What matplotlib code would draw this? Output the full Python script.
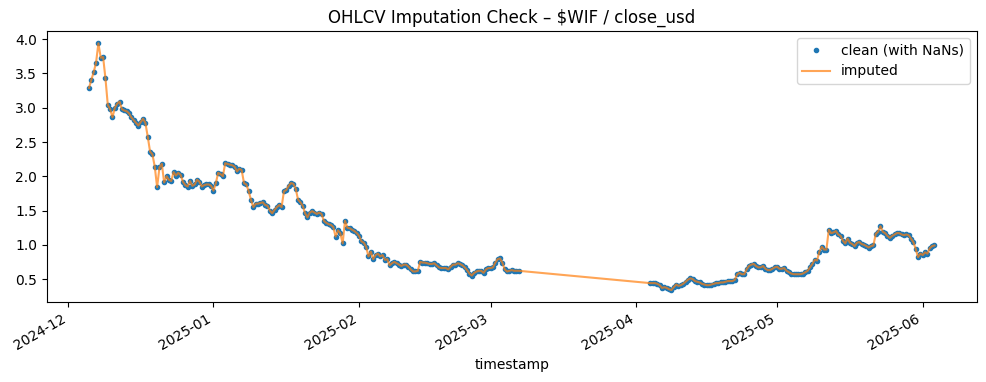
import numpy as np
import pandas as pd
import matplotlib
matplotlib.use("Agg")
import matplotlib.pyplot as plt

# 12-hourly close prices
seg1_start = "2024-12-05 12:00"
seg1_values = [
    3.29, 3.41, 3.52, 3.66, 3.94, 3.73, 3.74, 3.43, 3.04, 2.98, 2.86,
    3.00, 3.06, 3.09, 2.98, 2.96, 2.95, 2.92, 2.86, 2.82, 2.78,
    2.74, 2.79, 2.84, 2.78, 2.58, 2.36, 2.32, 2.14, 1.84, 2.13,
    2.18, 1.91, 2.00, 1.95, 1.93, 2.06, 2.01, 2.05, 2.02, 1.92,
    1.87, 1.85, 1.93, 1.86, 1.88, 1.95, 1.92, 1.85, 1.87, 1.88,
    1.88, 1.86, 1.79, 1.90, 2.05, 2.03, 2.00, 2.19, 2.18, 2.17,
    2.16, 2.14, 2.07, 2.11, 2.09, 1.90, 1.88, 1.78, 1.65, 1.55,
    1.60, 1.60, 1.61, 1.62, 1.58, 1.57, 1.50, 1.46, 1.51, 1.55,
    1.58, 1.55, 1.78, 1.80, 1.86, 1.90, 1.89, 1.82, 1.66, 1.62,
    1.57, 1.46, 1.40, 1.47, 1.49, 1.47, 1.45, 1.47, 1.45, 1.35,
    1.32, 1.30, 1.29, 1.26, 1.12, 1.21, 1.17, 1.02, 1.35, 1.25,
    1.24, 1.22, 1.20, 1.17, 1.13, 1.05, 1.03, 0.97, 0.83, 0.90,
    0.79, 0.85, 0.87, 0.83, 0.85, 0.78, 0.79, 0.70, 0.73, 0.75,
    0.73, 0.71, 0.69, 0.71, 0.71, 0.68, 0.64, 0.61, 0.61, 0.62,
    0.75, 0.74, 0.74, 0.73, 0.72, 0.72, 0.73, 0.70, 0.67, 0.66,
    0.66, 0.66, 0.64, 0.68, 0.71, 0.71, 0.73, 0.72, 0.70, 0.67,
    0.63, 0.58, 0.55, 0.59, 0.61, 0.62, 0.62, 0.59, 0.64, 0.66,
    0.66, 0.67, 0.74, 0.79, 0.80, 0.74, 0.64, 0.61, 0.62, 0.63,
    0.62, 0.62, 0.62,
]
seg2_start = "2025-04-04 00:00"
seg2_values = [
    0.44, 0.44, 0.44, 0.43, 0.41, 0.37, 0.38, 0.37, 0.35, 0.34,
    0.38, 0.42, 0.40, 0.41, 0.43, 0.46, 0.49, 0.51, 0.50, 0.47,
    0.46, 0.45, 0.43, 0.42, 0.41, 0.41, 0.42, 0.43, 0.44, 0.44,
    0.45, 0.45, 0.46, 0.47, 0.47, 0.47, 0.49, 0.57, 0.59, 0.57,
    0.57, 0.64, 0.69, 0.71, 0.72, 0.69, 0.67, 0.67, 0.69, 0.65,
    0.63, 0.63, 0.65, 0.67, 0.68, 0.65, 0.65, 0.66, 0.62, 0.60,
    0.58, 0.57, 0.57, 0.57, 0.57, 0.58, 0.60, 0.62, 0.67, 0.72,
    0.78, 0.77, 0.90, 0.97, 0.93, 0.93, 1.22, 1.17, 1.18, 1.20,
    1.15, 1.13, 1.06, 1.02, 1.09, 1.03, 1.01, 0.98, 1.03, 1.04,
    1.01, 1.00, 0.98, 0.96, 0.98, 0.99, 1.16, 1.19, 1.27, 1.19,
    1.17, 1.13, 1.10, 1.13, 1.15, 1.17, 1.17, 1.15, 1.14, 1.15,
    1.14, 1.09, 1.04, 0.94, 0.82, 0.87, 0.85, 0.89, 0.87, 0.95,
    0.98, 0.99,
]

idx1 = pd.date_range(seg1_start, periods=len(seg1_values), freq="12h")
idx2 = pd.date_range(seg2_start, periods=len(seg2_values), freq="12h")
full_idx = pd.date_range(idx1[0], idx2[-1], freq="12h")
clean = pd.Series(np.nan, index=full_idx)
clean.loc[idx1] = seg1_values
clean.loc[idx2] = seg2_values
imputed = clean.dropna()

fig = plt.figure(figsize=(9.86, 3.82), dpi=100)
ax = fig.add_subplot(111)
ax.plot(clean.index, clean.values, ".", label="clean (with NaNs)")
ax.plot(imputed.index, imputed.values, "-", alpha=0.7, label="imputed")
ax.set_title(r"OHLCV Imputation Check – \$WIF / close_usd")
ax.set_xlabel("timestamp")
ax.legend(loc="upper right")
fig.autofmt_xdate()
fig.subplots_adjust(left=0.0474, right=0.9906, top=0.9188, bottom=0.2086)
fig.savefig("out.png", dpi=100)
